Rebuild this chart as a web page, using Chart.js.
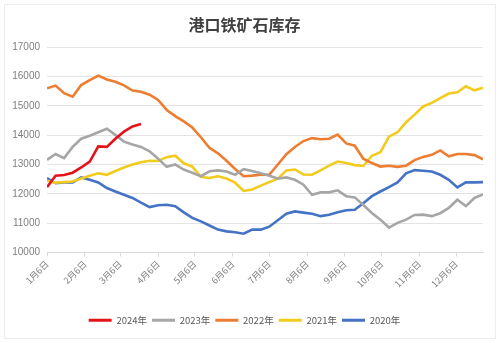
<!DOCTYPE html>
<html>
<head>
<meta charset="utf-8">
<script src="https://cdn.jsdelivr.net/npm/chart.js@4.4.1/dist/chart.umd.min.js"></script>
<style>
  html, body { margin: 0; padding: 0; background: #ffffff; }
  #wrap { width: 500px; height: 343px; position: relative; }
</style>
</head>
<body>
<div id="wrap"><canvas id="c" width="500" height="343"></canvas></div>
<script>
// Weekly observation dates, as day offsets from 1月6日
const weekDays = [0,7,14,21,28,35,42,49,56,63,70,77,84,91,98,105,112,119,126,133,140,147,154,161,168,175,182,189,196,203,210,217,224,231,238,245,252,259,266,273,280,287,294,301,308,315,322,329,336,343,350,357];

// Month tick labels and their day offsets from 1月6日
const monthLabels = ['1月6日','2月6日','3月6日','4月6日','5月6日','6月6日','7月6日','8月6日','9月6日','10月6日','11月6日','12月6日'];
const monthDays = [0,31,60,91,121,152,182,213,244,274,305,335];

const seriesNames = ['2024年','2023年','2022年','2021年','2020年'];

const s2024 = [12230,12620,12640,12720,12900,13100,13620,13600,13880,14120,14300,14380];
const s2023 = [13160,13360,13220,13600,13880,13980,14100,14220,14010,13780,13680,13600,13450,13200,12920,13000,12830,12720,12600,12770,12800,12760,12650,12840,12780,12700,12620,12520,12560,12480,12310,11970,12050,12050,12120,11920,11880,11620,11350,11120,10850,11010,11120,11280,11290,11240,11340,11520,11800,11580,11860,11980];
const s2022 = [15600,15690,15430,15310,15710,15880,16030,15900,15820,15700,15520,15480,15380,15200,14860,14650,14470,14260,13930,13570,13380,13130,12850,12600,12620,12650,12650,13000,13350,13600,13800,13900,13860,13880,14020,13720,13640,13200,13050,12930,12960,12920,12960,13150,13260,13330,13480,13280,13360,13360,13320,13180];
const s2021 = [12450,12380,12400,12420,12520,12620,12700,12650,12780,12900,13000,13080,13130,13120,13250,13300,13040,12930,12580,12540,12600,12520,12380,12100,12150,12280,12400,12520,12800,12830,12660,12650,12800,12960,13100,13050,12980,12950,13300,13420,13950,14100,14440,14700,14980,15100,15260,15420,15460,15670,15530,15620];
const s2020 = [12540,12360,12390,12390,12560,12480,12390,12200,12080,11970,11860,11700,11550,11610,11630,11580,11370,11180,11060,10920,10780,10720,10690,10640,10780,10780,10880,11100,11320,11400,11360,11320,11240,11290,11370,11440,11460,11680,11920,12080,12230,12390,12700,12810,12790,12760,12650,12480,12220,12390,12390,12400];

const yTicks = [10000,11000,12000,13000,14000,15000,16000,17000];

const colors = ['#e3131b','#a6a6a6','#ed7d31','#f2cb1d','#4472c4'];
const allSeries = [s2024, s2023, s2022, s2021, s2020];

const datasets = allSeries.map((s, k) => ({
  label: seriesNames[k],
  data: s.map((v, i) => ({ x: weekDays[i], y: v })),
  borderColor: colors[k],
  backgroundColor: colors[k],
  borderWidth: 2.6,
  pointRadius: 0,
  tension: 0,
  fill: false
}));

const frame = {
  id: 'frame',
  beforeDraw(chart) {
    const ctx = chart.ctx;
    ctx.save();
    ctx.fillStyle = '#ffffff';
    ctx.fillRect(0, 0, chart.width, chart.height);
    ctx.strokeStyle = '#ececec';
    ctx.lineWidth = 1;
    ctx.strokeRect(4.5, 4.5, 491, 334);
    ctx.restore();
  }
};

new Chart(document.getElementById('c'), {
  type: 'line',
  data: { datasets },
  plugins: [frame],
  options: {
    responsive: false,
    animation: false,
    layout: { padding: { left: 6, right: 17, top: 0, bottom: 8 } },
    plugins: {
      title: {
        display: true,
        text: '港口铁矿石库存',
        color: '#404040',
        font: { family: '"Noto Sans CJK SC", sans-serif', size: 16, weight: 'bold' },
        padding: { top: 15, bottom: 13 }
      },
      legend: {
        position: 'bottom',
        labels: {
          color: '#595959',
          font: { family: '"Noto Sans CJK SC", sans-serif', size: 9.5 },
          boxWidth: 23,
          boxHeight: 3,
          padding: 5,
          generateLabels(chart) {
            return Chart.defaults.plugins.legend.labels.generateLabels(chart).map(it => Object.assign(it, { lineWidth: 0 }));
          }
        }
      },
      tooltip: { enabled: false }
    },
    scales: {
      x: {
        type: 'linear',
        min: 0,
        max: 357,
        afterBuildTicks(scale) {
          scale.ticks = monthDays.map(v => ({ value: v }));
        },
        afterFit(scale) { scale.height = 58; },
        ticks: {
          autoSkip: false,
          minRotation: 45,
          maxRotation: 45,
          color: '#7f7f7f',
          font: { family: '"Noto Sans CJK SC", sans-serif', size: 9 },
          padding: 2,
          callback(value) {
            const k = monthDays.indexOf(value);
            return k >= 0 ? monthLabels[k] : '';
          }
        },
        grid: {
          drawOnChartArea: false,
          drawTicks: true,
          tickLength: 4,
          color: '#d9d9d9'
        },
        border: { display: true, color: '#d9d9d9', width: 1 }
      },
      y: {
        min: 10000,
        max: 17000,
        afterBuildTicks(scale) {
          scale.ticks = yTicks.map(v => ({ value: v }));
        },
        afterFit(scale) { scale.width = 41; },
        ticks: {
          color: '#7f7f7f',
          font: { family: '"Liberation Sans", Arial, sans-serif', size: 10 },
          padding: 7,
          callback(value) { return String(value); }
        },
        grid: {
          color: '#e3e3e3',
          drawTicks: false
        },
        border: { display: false }
      }
    }
  }
});
</script>
</body>
</html>
